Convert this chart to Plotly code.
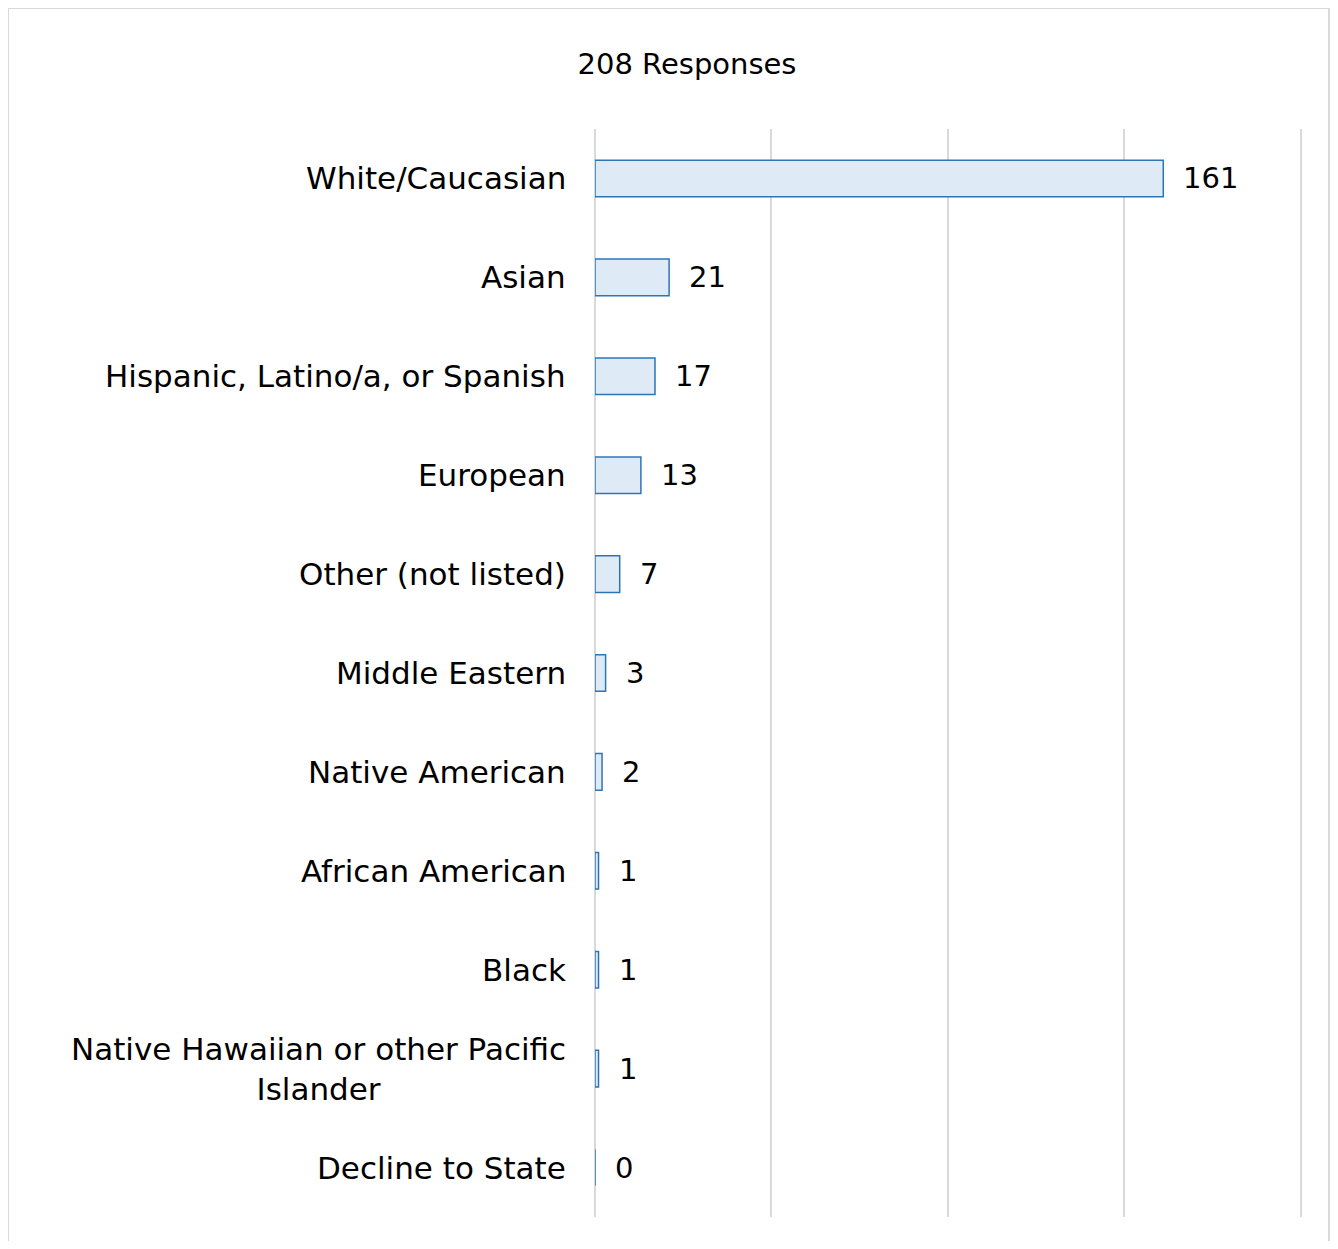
import plotly.graph_objects as go

categories = ["White/Caucasian", "Asian", "Hispanic, Latino/a, or Spanish", "European",
              "Other (not listed)", "Middle Eastern", "Native American", "African American",
              "Black", "Native Hawaiian or other Pacific<br>Islander", "Decline to State"]
values = [161, 21, 17, 13, 7, 3, 2, 1, 1, 1, 0]
title_text = "208 Responses"

# page body has an 8px margin on every side, so the figure is 16px smaller than the window
W, H = 1322, 1233
ml, mr, mt, mb = 587, 28, 121, 24
FONT = "DejaVu Sans"

fig = go.Figure(go.Bar(
    x=values, y=categories, orientation="h", width=0.37,
    marker=dict(color="#DEEBF7", line=dict(color="#2E75B6", width=1.5)),
    hoverinfo="x+y",
))

annotations = []
for c, v in zip(categories, values):
    annotations.append(dict(x=0, y=c, xref="paper", yref="y", text=c, showarrow=False,
                            xanchor="right", yanchor="middle", align="center", xshift=-27,
                            font=dict(family=FONT, size=31, color="#000000")))
    annotations.append(dict(x=v, y=c, xref="x", yref="y", text=str(v), showarrow=False,
                            xanchor="left", yanchor="middle", xshift=18,
                            font=dict(family=FONT, size=29, color="#000000")))

pw = W - ml - mr
ph = H - mt - mb
fig.update_layout(
    width=W, height=H,
    margin=dict(l=ml, r=mr, t=mt, b=mb),
    paper_bgcolor="white", plot_bgcolor="white",
    title=dict(text=title_text, x=679 / W, xanchor="center", y=1 - 56 / H, yanchor="middle",
               xref="container", yref="container",
               font=dict(family=FONT, size=29, color="#000000")),
    xaxis=dict(range=[0, 200.3], dtick=50, showgrid=True, gridcolor="#D9D9D9", gridwidth=2,
               showticklabels=False, zeroline=True, zerolinecolor="#D9D9D9", zerolinewidth=2,
               showline=False, fixedrange=True),
    yaxis=dict(autorange="reversed", showticklabels=False, showgrid=False, zeroline=False,
               showline=False, fixedrange=True),
    showlegend=False,
    annotations=annotations,
    shapes=[dict(type="rect", xref="paper", yref="paper",
                 x0=(0 - ml) / pw, x1=(1321 - ml) / pw,
                 y0=(H - mb - 1260) / ph, y1=(H - mb - 0) / ph,
                 line=dict(color="#D9D9D9", width=2), fillcolor="rgba(0,0,0,0)", layer="below")],
)

fig.write_html("out.html")
